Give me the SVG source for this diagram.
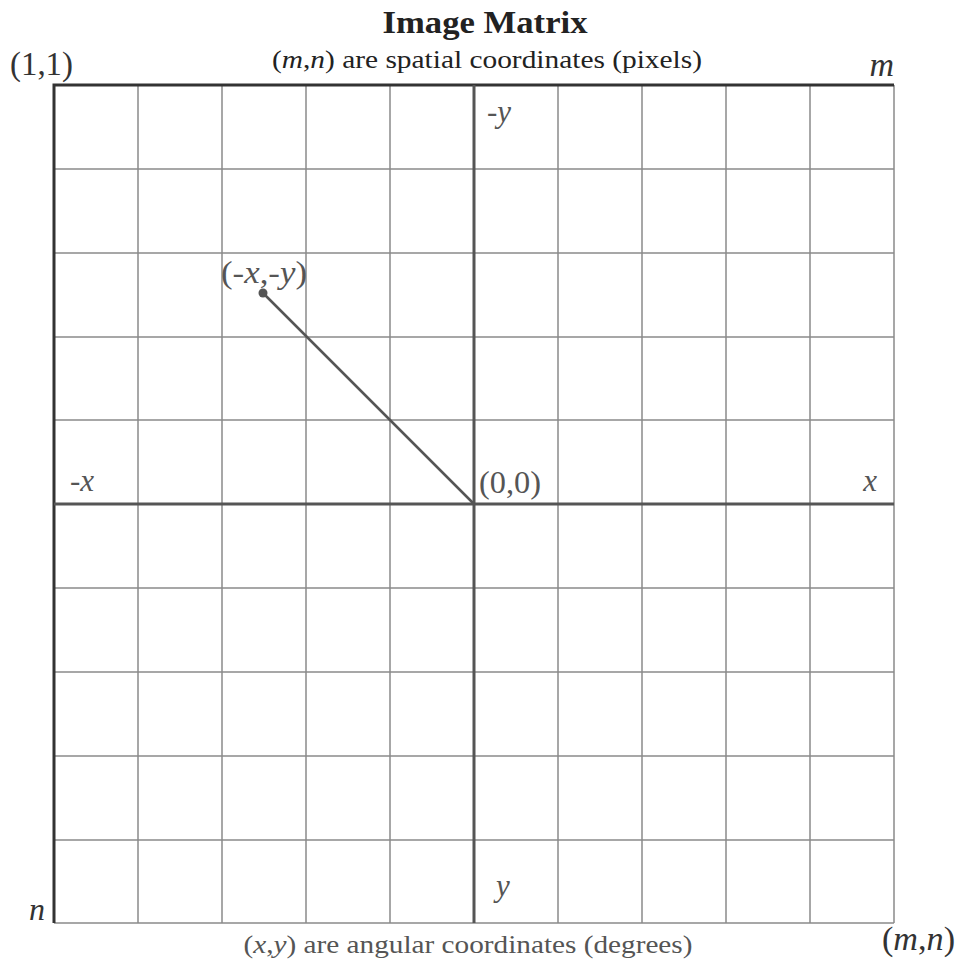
<svg xmlns="http://www.w3.org/2000/svg" width="960" height="966" viewBox="0 0 960 966">
<style>
.grid{stroke:#8a8a8a;stroke-width:1.5;fill:none}
.axis{stroke:#555;stroke-width:3;fill:none}
.border{stroke:#333;stroke-width:3;fill:none}
.t{font-family:"Liberation Serif","DejaVu Serif",serif}
.i{font-style:italic}
.lab{fill:#555;font-size:31px}
.dark{fill:#222}
</style>
<rect width="960" height="966" fill="#fff"/>
<g id="grid">
<path class="grid" d="M138 85V923M222 85V923M306 85V923M390 85V923M558 85V923M642 85V923M726 85V923M810 85V923M894 85V923"/>
<path class="grid" d="M54 169H894M54 253H894M54 337H894M54 420H894M54 588H894M54 672H894M54 756H894M54 840H894M54 923H894"/>
<path class="border" d="M54 923V85H894"/>
</g>
<g id="axes">
<path class="axis" d="M474 85V923"/>
<path class="axis" d="M54 504H894"/>
</g>
<g id="connectors">
<line x1="263" y1="293" x2="474" y2="504" stroke="#555" stroke-width="2.5"/>
<circle cx="263" cy="293" r="4.5" fill="#555"/>
</g>
<g id="title">
<text class="t dark" x="485" y="33" font-size="32" font-weight="bold" text-anchor="middle" textLength="205" lengthAdjust="spacingAndGlyphs">Image Matrix</text>
<text class="t dark" x="487" y="68" font-size="25" text-anchor="middle" textLength="430" lengthAdjust="spacingAndGlyphs">(<tspan class="i">m</tspan>,<tspan class="i">n</tspan>) are spatial coordinates (pixels)</text>
</g>
<g id="corner-labels">
<text class="t" x="10" y="75" font-size="33" fill="#333" textLength="63" lengthAdjust="spacingAndGlyphs">(1,1)</text>
<text class="t i" x="894" y="76" font-size="34" fill="#333" text-anchor="end">m</text>
<text class="t i" x="45" y="920" font-size="32" fill="#333" text-anchor="end">n</text>
<text class="t" x="882" y="950" font-size="33" fill="#333" textLength="73" lengthAdjust="spacingAndGlyphs">(<tspan class="i">m</tspan>,<tspan class="i">n</tspan>)</text>
</g>
<g id="axis-labels">
<text class="t i lab" x="487" y="122">-y</text>
<text class="t i lab" x="70" y="491">-x</text>
<text class="t i lab" x="877" y="491" text-anchor="end">x</text>
<text class="t i lab" x="496" y="896">y</text>
<text class="t lab" x="479" y="493" textLength="62" lengthAdjust="spacingAndGlyphs">(0,0)</text>
<text class="t lab" x="221" y="283" textLength="86" lengthAdjust="spacingAndGlyphs">(<tspan class="i">-x</tspan>,<tspan class="i">-y</tspan>)</text>
</g>
<g id="caption">
<text class="t" x="468" y="953" font-size="25" fill="#555" text-anchor="middle" textLength="449" lengthAdjust="spacingAndGlyphs">(<tspan class="i">x</tspan>,<tspan class="i">y</tspan>) are angular coordinates (degrees)</text>
</g>
</svg>
